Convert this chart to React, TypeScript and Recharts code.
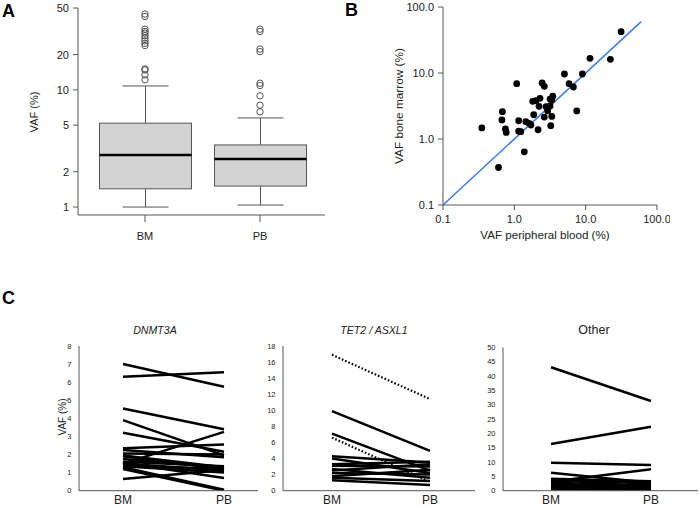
import React from 'react';
import {
  ComposedChart,
  Bar,
  Scatter,
  XAxis,
  YAxis,
  LineChart,
  Line,
  ScatterChart,
  ReferenceLine,
} from 'recharts';

const FONT = '"Liberation Sans", Arial, Helvetica, sans-serif';
const AX = '#555';
const TXT = '#222';

// ---------- Panel A (box plot, log scale) ----------
const groupsA = ['BM', 'PB'];
const lowerWhiskerA = [1.0, 1.04];
const q1A = [1.43, 1.51];
const medianA = [2.78, 2.57];
const q3A = [5.2, 3.39];
const upperWhiskerA = [10.8, 5.76];
const outliersBM = [44.4, 42.3, 33, 31.5, 30.5, 29, 27.7, 26.2, 25, 23.9, 15.1, 14.8, 13.4, 12.2];
const outliersPB = [33, 31.5, 22.3, 21.2, 11.4, 10.9, 8.9, 7.4, 6.5];
const ticksA = [1, 2, 5, 10, 20, 50];

// ---------- Panel B (scatter, log-log) ----------
const vafPB = [31.4, 11.5, 22.2, 5.04, 9.0, 1.08, 2.45, 2.63, 5.85, 6.73, 1.81, 2.01, 2.29, 3.17, 3.46, 3.35, 2.22, 2.79, 3.17, 2.94, 7.5, 0.68, 1.87, 2.63, 3.35, 0.67, 1.15, 1.45, 1.61, 1.71, 3.24, 0.35, 0.75, 0.77, 1.15, 1.23, 2.15, 1.38, 0.6];
const vafBM = [42.3, 16.7, 16.1, 9.66, 9.66, 6.89, 7.05, 6.28, 6.89, 6.14, 3.72, 3.8, 4.14, 4.03, 4.44, 3.9, 3.13, 3.09, 3.16, 2.66, 2.66, 2.59, 2.33, 2.15, 2.2, 1.94, 1.89, 1.83, 1.73, 1.63, 1.59, 1.47, 1.42, 1.26, 1.31, 1.29, 1.38, 0.64, 0.37];
const ticksB = [0.1, 1, 10, 100];
const identityEnds = [0.1, 60];

// ---------- Panel C (paired lines) ----------
const timepointsC = ['BM', 'PB'];
const dnmt3aBM = [7.0, 6.3, 4.55, 3.9, 3.2, 2.35, 2.25, 1.95, 1.5, 1.9, 1.6, 1.5, 1.4, 1.3, 1.2, 0.65, 1.55, 1.75, 2.05, 1.35];
const dnmt3aPB = [5.75, 6.55, 3.4, 1.95, 2.15, 2.55, 1.85, 1.3, 3.25, 1.2, 1.35, 1.1, 1.2, 0.05, 0.0, 1.15, 0.7, 1.25, 2.0, 1.0];
const tet2BM = [16.9, 9.9, 7.1, 6.6, 4.3, 4.0, 3.3, 3.1, 2.7, 2.5, 2.2, 1.8, 1.6, 1.3];
const tet2PB = [11.4, 4.95, 2.5, 1.1, 3.5, 2.2, 3.6, 3.0, 1.6, 3.3, 2.0, 2.6, 1.2, 0.7];
const tet2Genes = ['ASXL1', 'TET2', 'TET2', 'ASXL1', 'TET2', 'TET2', 'TET2', 'TET2', 'TET2', 'TET2', 'TET2', 'TET2', 'TET2', 'TET2'];
const otherBM = [43.1, 16.3, 9.8, 6.3, 3.1, 4.2, 3.8, 3.4, 2.9, 2.3, 1.8, 1.3, 0.9, 0.5, 4.0];
const otherPB = [31.3, 22.3, 9.0, 2.8, 7.5, 3.3, 2.5, 3.0, 1.4, 2.0, 0.9, 1.6, 0.5, 0.3, 1.2];
const ticksDnmt3a = [0, 1, 2, 3, 4, 5, 6, 7, 8];
const ticksTet2 = [0, 2, 4, 6, 8, 10, 12, 14, 16, 18];
const ticksOther = [0, 5, 10, 15, 20, 25, 30, 35, 40, 45, 50];

// ---------- derived tables ----------
const boxData = groupsA.map((g, i) => ({
  g,
  box: [q1A[i], q3A[i]],
  lo: lowerWhiskerA[i],
  med: medianA[i],
  hi: upperWhiskerA[i],
}));
const outlierData = [
  ...outliersBM.map((v) => ({ g: groupsA[0], v })),
  ...outliersPB.map((v) => ({ g: groupsA[1], v })),
];
const pointsB = vafPB.map((pb, i) => ({ pb, bm: vafBM[i] }));

const BoxShape = (props: any) => {
  const { x, y, width, height, payload } = props;
  const [q1, q3] = payload.box;
  const k = height / (Math.log10(q3) - Math.log10(q1));
  const py = (v: number) => y + (Math.log10(q3) - Math.log10(v)) * k;
  const cx = x + width / 2;
  const yHi = py(payload.hi);
  const yLo = py(payload.lo);
  const yMed = py(payload.med);
  const cap = width / 4;
  return (
    <g>
      <line x1={cx} x2={cx} y1={yHi} y2={y} stroke={AX} strokeWidth={1} />
      <line x1={cx} x2={cx} y1={y + height} y2={yLo} stroke={AX} strokeWidth={1} />
      <line x1={cx - cap} x2={cx + cap} y1={yHi} y2={yHi} stroke={AX} strokeWidth={1} />
      <line x1={cx - cap} x2={cx + cap} y1={yLo} y2={yLo} stroke={AX} strokeWidth={1} />
      <rect x={x} y={y} width={width} height={height} fill="#d3d3d3" stroke={AX} strokeWidth={1} />
      <line x1={x} x2={x + width} y1={yMed} y2={yMed} stroke="#000" strokeWidth={2.6} />
    </g>
  );
};

const tickStyleA = { fontSize: 11, fill: TXT, fontFamily: FONT };

function PanelA() {
  return (
    <ComposedChart width={330} height={245} data={boxData} margin={{ top: 8, right: 5, bottom: 0, left: 0 }}>
      <XAxis
        dataKey="g"
        allowDuplicatedCategory={false}
        padding={{ left: 9.5, right: 7.5 }}
        height={30}
        tickSize={7}
        tickMargin={10}
        stroke={AX}
        tick={tickStyleA}
      />
      <YAxis
        type="number"
        scale="log"
        domain={[0.855, 50]}
        allowDataOverflow
        ticks={ticksA}
        width={78}
        tickSize={5}
        tickMargin={4}
        stroke={AX}
        tick={tickStyleA}
      />
      <Bar dataKey="box" barSize={92} isAnimationActive={false} shape={(p: any) => <BoxShape {...p} />} />
      <Scatter
        data={outlierData}
        dataKey="v"
        isAnimationActive={false}
        shape={(p: any) => <circle cx={p.cx} cy={p.cy} r={3.2} fill="none" stroke={AX} strokeWidth={1} />}
      />
    </ComposedChart>
  );
}

function PanelB() {
  const tick = { fontSize: 11, fill: TXT, fontFamily: FONT };
  return (
    <ScatterChart width={340} height={245} margin={{ top: 7, right: 13, bottom: 0, left: 0 }}>
      <XAxis
        type="number"
        dataKey="pb"
        scale="log"
        domain={[0.1, 100]}
        allowDataOverflow
        ticks={ticksB}
        tickFormatter={(v: number) => v.toFixed(1)}
        height={40}
        tickSize={5}
        tickMargin={5}
        stroke={AX}
        tick={tick}
      />
      <YAxis
        type="number"
        dataKey="bm"
        scale="log"
        domain={[0.1, 100]}
        allowDataOverflow
        ticks={ticksB}
        tickFormatter={(v: number) => v.toFixed(1)}
        width={113}
        tickSize={5}
        tickMargin={4}
        stroke={AX}
        tick={tick}
      />
      <ReferenceLine
        segment={[
          { x: identityEnds[0], y: identityEnds[0] },
          { x: identityEnds[1], y: identityEnds[1] },
        ]}
        stroke="#3f7fe8"
        strokeWidth={1.6}
      />
      <Scatter
        data={pointsB}
        isAnimationActive={false}
        shape={(p: any) => <circle cx={p.cx} cy={p.cy} r={3.4} fill="#000" />}
      />
    </ScatterChart>
  );
}

function PairedPanel(props: {
  width: number;
  yAxisWidth: number;
  top: number;
  right: number;
  bm: number[];
  pb: number[];
  max: number;
  ticks: number[];
  padL: number;
  padR: number;
  genes?: string[];
}) {
  const { width, yAxisWidth, top, right, bm, pb, max, ticks, padL, padR, genes } = props;
  const data = timepointsC.map((t, ti) => {
    const row: any = { t };
    bm.forEach((_, i) => {
      row['s' + i] = ti === 0 ? bm[i] : pb[i];
    });
    return row;
  });
  return (
    <LineChart width={width} height={167} data={data} margin={{ top, right, bottom: 0, left: 0 }}>
      <XAxis
        dataKey="t"
        scale="point"
        padding={{ left: padL, right: padR }}
        height={16.3}
        tickLine={false}
        tickSize={2}
        tickMargin={3}
        stroke={AX}
        tick={{ fontSize: 12, fill: TXT, fontFamily: FONT }}
      />
      <YAxis
        type="number"
        domain={[0, max]}
        ticks={ticks}
        allowDataOverflow
        width={yAxisWidth}
        tickLine={false}
        tickSize={4}
        tickMargin={3.5}
        stroke={AX}
        tick={{ fontSize: 7.5, fill: TXT, fontFamily: FONT }}
      />
      {bm.map((_, i) => (
        <Line
          key={i}
          dataKey={'s' + i}
          stroke="#000"
          strokeWidth={genes && genes[i] === 'ASXL1' ? 2.2 : 2.5}
          strokeDasharray={genes && genes[i] === 'ASXL1' ? '1.6 2' : undefined}
          dot={false}
          activeDot={false}
          isAnimationActive={false}
        />
      ))}
    </LineChart>
  );
}

const abs = (left: number, top: number): React.CSSProperties => ({ position: 'absolute', left, top });

export default function App() {
  return (
    <div
      style={{
        position: 'absolute',
        left: 0,
        top: 0,
        width: 699,
        height: 507,
        background: '#fff',
        fontFamily: FONT,
        overflow: 'hidden',
      }}
    >
      <div style={abs(0, 0)}>
        <PanelA />
      </div>
      <div style={abs(330, 0)}>
        <PanelB />
      </div>
      <div style={abs(0, 340)}>
        <PairedPanel width={262} yAxisWidth={79} top={6} right={4} bm={dnmt3aBM} pb={dnmt3aPB} max={8} ticks={ticksDnmt3a} padL={44} padR={34} />
      </div>
      <div style={abs(262, 340)}>
        <PairedPanel width={217} yAxisWidth={21} top={6} right={4} bm={tet2BM} pb={tet2PB} max={18} ticks={ticksTet2} padL={49} padR={45} genes={tet2Genes} />
      </div>
      <div style={abs(479, 340)}>
        <PairedPanel width={220} yAxisWidth={24} top={7.5} right={1} bm={otherBM} pb={otherPB} max={50} ticks={ticksOther} padL={48} padR={47} />
      </div>
      <svg
        width={699}
        height={507}
        style={{ position: 'absolute', left: 0, top: 0, pointerEvents: 'none' }}
        fontFamily={FONT}
      >
        <text x={2} y={17} fontSize={18} fontWeight="bold" fill="#000">A</text>
        <text x={345} y={16} fontSize={18} fontWeight="bold" fill="#000">B</text>
        <text x={2} y={304} fontSize={18} fontWeight="bold" fill="#000">C</text>
        <text x={34} y={112} fontSize={11} fill={TXT} textAnchor="middle" dominantBaseline="central" transform="rotate(-90 34 112)">VAF (%)</text>
        <text x={399} y={106} fontSize={11.8} fill={TXT} textAnchor="middle" dominantBaseline="central" transform="rotate(-90 399 106)">VAF bone marrow (%)</text>
        <text x={545} y={234} fontSize={11.6} fill={TXT} textAnchor="middle" dominantBaseline="central">VAF peripheral blood (%)</text>
        <text x={155} y={329.5} fontSize={10.6} fontStyle="italic" fill={TXT} textAnchor="middle" dominantBaseline="central">DNMT3A</text>
        <text x={374} y={329.5} fontSize={10.6} fontStyle="italic" fill={TXT} textAnchor="middle" dominantBaseline="central">TET2 / ASXL1</text>
        <text x={594} y={329.5} fontSize={12.5} fill={TXT} textAnchor="middle" dominantBaseline="central">Other</text>
        <text x={62} y={417} fontSize={10} fill={TXT} textAnchor="middle" dominantBaseline="central" transform="rotate(-90 62 417)">VAF (%)</text>
      </svg>
    </div>
  );
}
